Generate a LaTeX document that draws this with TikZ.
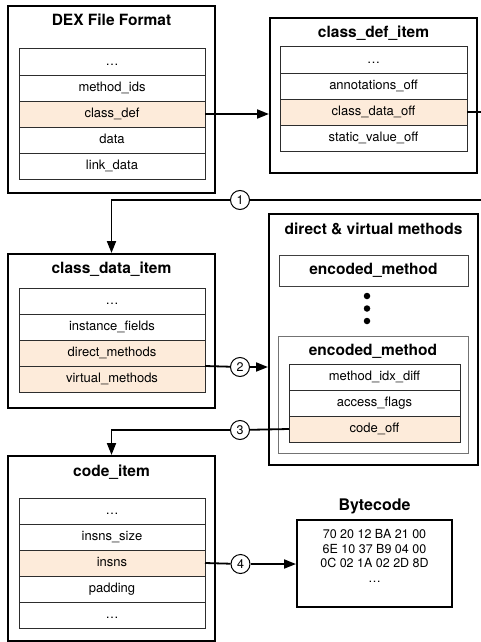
\documentclass[tikz,border=0pt]{standalone}
\usepackage{fontspec}
\setmainfont{TeX Gyre Heros}
\usetikzlibrary{arrows.meta}
\definecolor{peach}{RGB}{253,235,218}
\definecolor{rowline}{RGB}{45,45,45}
\newcommand{\ttlfont}{\fontsize{15.5}{18}\selectfont\bfseries}
\newcommand{\bodyfont}{\fontsize{13}{15}\selectfont}
\newcommand{\bytefont}{\fontsize{12.5}{14.6}\selectfont}
\newcommand{\numfont}{\fontsize{12.5}{14}\selectfont}
\begin{document}
\begin{tikzpicture}[x=1pt,y=-1pt,
  outer/.style={draw, line width=2pt, inner sep=0pt},
  ttl/.style={font=\ttlfont, inner sep=0pt, text height=11.2pt, text depth=3.4pt},
  row/.style={draw=rowline, line width=1pt, outer sep=0pt, inner sep=0pt,
              minimum height=26pt, font=\bodyfont, text height=9.5pt, text depth=3pt, anchor=north},
  hl/.style={row, fill=peach},
  emb/.style={draw=#1, line width=1pt, inner sep=0pt},
  conn/.style={line width=1.8pt},
  arr/.style={line width=1.8pt, -{Triangle[length=12pt,width=9pt]}},
  num/.style={circle, draw, line width=1pt, minimum size=19pt, inner sep=0pt, font=\numfont, fill=white},
  dot/.style={circle, fill=black, minimum size=6.5pt, inner sep=0pt}]
\useasboundingbox (0,0) rectangle (481,642);

% ---------- DEX File Format ----------
\node[outer, minimum width=207pt, minimum height=187pt] (dex) at (111.5,99.5) {};
\node[ttl] (dext) at (111.5,22) {DEX File Format};
\begin{scope}[every node/.append style={minimum width=186pt, minimum height=25.6pt}]
\node[row] (d1) at (112,49) {\dots};
\node[row] (d2) at (d1.south) {method\_ids};
\node[hl]  (cd) at (d2.south) {class\_def};
\node[row] (d4) at (cd.south) {data};
\node[row] (d5) at (d4.south) {link\_data};
\end{scope}

% ---------- class_def_item ----------
\node[outer, minimum width=207pt, minimum height=155pt] (cdi) at (373.5,95.5) {};
\node[ttl] (cdit) at (373.5,34) {class\_def\_item};
\begin{scope}[every node/.append style={minimum width=187pt}]
\node[row] (i1) at (373.5,47) {\dots};
\node[row] (i2) at (i1.south) {annotations\_off};
\node[hl]  (cdo) at (i2.south) {class\_data\_off};
\node[row] (i4) at (cdo.south) {static\_value\_off};
\end{scope}

% ---------- class_data_item ----------
\node[outer, minimum width=207pt, minimum height=154pt] (cdat) at (111.5,331) {};
\node[ttl] (cdatt) at (111.5,270) {class\_data\_item};
\begin{scope}[every node/.append style={minimum width=186pt}]
\node[row] (k1) at (112,288) {\dots};
\node[row] (k2) at (k1.south) {instance\_fields};
\node[hl]  (dm) at (k2.south) {direct\_methods};
\node[hl]  (vm) at (dm.south) {virtual\_methods};
\end{scope}

% ---------- direct & virtual methods ----------
\node[outer, minimum width=209pt, minimum height=251pt] (dv) at (373.5,339.5) {};
\node[ttl] (dvt) at (373.5,231) {direct \& virtual methods};
\node[emb=black!75, minimum width=189pt, minimum height=31pt, font=\ttlfont,
      text height=11.2pt, text depth=3.4pt] (em1) at (373.5,270.5) {encoded\_method};
\node[dot] (dt1) at (367,296) {};
\node[dot] (dt2) at (367,308.5) {};
\node[dot] (dt3) at (367,321) {};
\node[emb=black!55, minimum width=190pt, minimum height=117pt] (em2) at (373,394.5) {};
\node[ttl] (em2t) at (373,352) {encoded\_method};
\begin{scope}[every node/.append style={minimum width=171pt, minimum height=26.3pt}]
\node[row] (m1) at (374.5,364) {method\_idx\_diff};
\node[row] (m2) at (m1.south) {access\_flags};
\node[hl]  (cof) at (m2.south) {code\_off};
\end{scope}

% ---------- code_item ----------
\node[outer, minimum width=207pt, minimum height=185pt] (ci) at (111.5,548.5) {};
\node[ttl] (cit) at (111.5,473) {code\_item};
\begin{scope}[every node/.append style={minimum width=186pt}]
\node[row] (c1r) at (112,498) {\dots};
\node[row] (c2r) at (c1r.south) {insns\_size};
\node[hl]  (ins) at (c2r.south) {insns};
\node[row] (c4r) at (ins.south) {padding};
\node[row] (c5r) at (c4r.south) {\dots};
\end{scope}

% ---------- Bytecode ----------
\node[ttl, font=\fontsize{16}{18}\selectfont\bfseries] (bct) at (374.5,507) {Bytecode};
\node[outer, minimum width=155pt, minimum height=87pt] (bc) at (374.5,563.5) {};
\node[font=\bytefont, align=center, inner sep=0pt] (bytes) at (374.5,556)
  {70 20 12 BA 21 00\\6E 10 37 B9 04 00\\0C 02 1A 02 2D 8D\\\dots};

% ---------- numbered connectors ----------
\coordinate (e1) at (481,112);
\coordinate (e2) at (481,200);
\node[num] (n1) at (240,200) {1};
\node[num] (n2) at (240,367) {2};
\node[num] (n3) at (240,430) {3};
\node[num] (n4) at (240.5,564) {4};

\draw[arr] (cd.east) -- (cdi.west |- cd.east);
\draw[conn] (cdo.east) -- (e1);
\draw[conn] (e2) -- (n1);
\draw[arr] (n1) -| (cdat.north);
\draw[conn] (dm.south east) -- (n2);
\draw[arr] (n2) -- (dv.west |- n2);
\draw[conn] (cof.west) -- (n3);
\draw[arr] (n3) -| (ci.north);
\draw[conn] (ins.east) -- (n4);
\draw[arr] (n4) -- (bc.west |- n4);
\end{tikzpicture}
\end{document}
